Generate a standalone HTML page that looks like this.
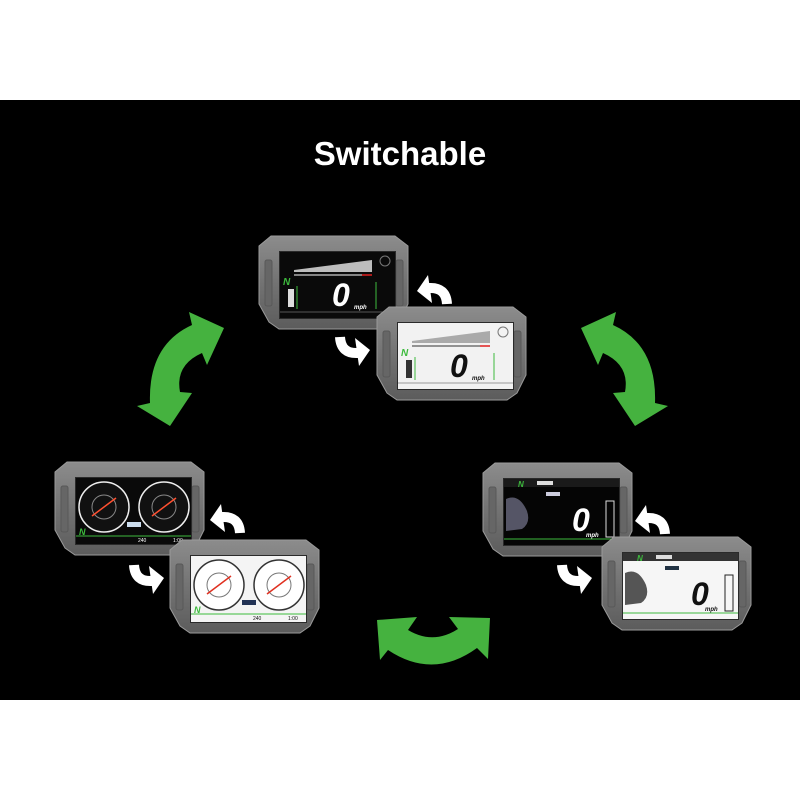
<!DOCTYPE html>
<html><head><meta charset="utf-8"><style>
html,body{margin:0;padding:0;background:#fff;}
svg{display:block}
text{font-family:"Liberation Sans",sans-serif}
</style></head><body>
<svg width="800" height="800" viewBox="0 0 800 800" xmlns="http://www.w3.org/2000/svg">
<defs>
  <linearGradient id="bz" x1="0" y1="0" x2="0" y2="1">
    <stop offset="0" stop-color="#8c8c8c"/><stop offset="0.5" stop-color="#737373"/><stop offset="1" stop-color="#5c5c5c"/>
  </linearGradient>
  <g id="body">
    <polygon points="12,0 136,0 149,10 149,68 140,86 130,93 20,93 10,86 0,68 0,10" fill="url(#bz)" stroke="#9a9a9a" stroke-width="1"/>
    <rect x="6" y="24" width="7" height="46" rx="2" fill="#666" stroke="#585858"/>
    <rect x="137" y="24" width="7" height="46" rx="2" fill="#666" stroke="#585858"/>
    <rect x="20" y="15" width="117" height="68" fill="#2a2a2a"/>
  </g>
  <g id="warr">
    <path d="M12 13 Q29 12 30 29" fill="none" stroke="#fff" stroke-width="10"/>
    <polygon points="0,16 11,0 15,28" fill="#fff"/>
  </g>
  <g id="garr">
    <path d="M150,403 L137,406 L170,426 L192,393 L180,392 Q175,365 202,353 L207,365 L224,328 L189,312 L192,325 Q148,345 150,403 Z" fill="#45b23f"/>
  </g>
</defs>
<rect x="0" y="100" width="800" height="600" fill="#000"/>
<text x="400" y="165" font-size="33" font-weight="bold" fill="#fff" text-anchor="middle">Switchable</text>

<use href="#garr"/>
<use href="#garr" transform="translate(805,0) scale(-1,1)"/>
<path d="M377,620 L417,617 L408,630 Q433,645 458,629 L449,617 L490,618 L488,659 L477,648 Q433,680 388,650 L380,660 Z" fill="#45b23f"/>

<!-- TOP pair -->
<g transform="translate(259,236)">
  <use href="#body"/>
  <g transform="translate(21,16)">
    <rect width="115" height="66" fill="#0a0a0a"/>
    <polygon points="14,18 92,8 92,20 14,20" fill="#bdbdbd"/>
    <line x1="14" y1="23" x2="92" y2="23" stroke="#fff" stroke-width="1"/>
    <line x1="82" y1="23" x2="92" y2="23" stroke="#e02020" stroke-width="1.5"/>
    <text x="3" y="33" font-size="10" font-weight="bold" font-style="italic" fill="#3dbb3d">N</text>
    <rect x="8" y="37" width="6" height="18" fill="#ddd"/>
    <path d="M17 34 V57 M96 30 V57" stroke="#3dbb3d" stroke-width="1" fill="none"/>
    <text x="52" y="54" font-size="32" font-weight="bold" font-style="italic" fill="#fff">0</text>
    <text x="74" y="57" font-size="6" font-weight="bold" font-style="italic" fill="#fff">mph</text>
    <line x1="0" y1="60" x2="115" y2="60" stroke="#555"/>
    <circle cx="105" cy="9" r="5" fill="none" stroke="#777"/>
  </g>
</g>
<g transform="translate(377,307)">
  <use href="#body"/>
  <g transform="translate(21,16)">
    <rect width="115" height="66" fill="#f2f2f2"/>
    <polygon points="14,18 92,8 92,20 14,20" fill="#aaa"/>
    <line x1="14" y1="23" x2="92" y2="23" stroke="#333" stroke-width="1"/>
    <line x1="82" y1="23" x2="92" y2="23" stroke="#e02020" stroke-width="1.5"/>
    <text x="3" y="33" font-size="10" font-weight="bold" font-style="italic" fill="#3dbb3d">N</text>
    <rect x="8" y="37" width="6" height="18" fill="#333"/>
    <path d="M17 34 V57 M96 30 V57" stroke="#3dbb3d" stroke-width="1" fill="none"/>
    <text x="52" y="54" font-size="32" font-weight="bold" font-style="italic" fill="#111">0</text>
    <text x="74" y="57" font-size="6" font-weight="bold" font-style="italic" fill="#111">mph</text>
    <line x1="0" y1="60" x2="115" y2="60" stroke="#999"/>
    <circle cx="105" cy="9" r="5" fill="none" stroke="#777"/>
  </g>
</g>
<use href="#warr" transform="translate(417,275)"/>
<use href="#warr" transform="translate(370,366) rotate(180)"/>

<!-- LEFT pair -->
<g transform="translate(55,462)">
  <use href="#body"/>
  <g transform="translate(21,16)">
    <rect width="115" height="66" fill="#0a0a0a"/>
    <circle cx="28" cy="29" r="25" fill="#111" stroke="#eee" stroke-width="1.5"/>
    <circle cx="28" cy="29" r="12" fill="none" stroke="#888"/>
    <circle cx="88" cy="29" r="25" fill="#111" stroke="#eee" stroke-width="1.5"/>
    <circle cx="88" cy="29" r="12" fill="none" stroke="#888"/>
    <line x1="16" y1="38" x2="40" y2="20" stroke="#ff5030" stroke-width="1.5"/>
    <line x1="76" y1="38" x2="100" y2="20" stroke="#ff5030" stroke-width="1.5"/>
    <rect x="51" y="44" width="14" height="5" fill="#cde"/>
    <text x="3" y="57" font-size="9" font-weight="bold" font-style="italic" fill="#3dbb3d">N</text>
    <line x1="0" y1="58" x2="115" y2="58" stroke="#3dbb3d"/>
    <text x="62" y="64" font-size="5" fill="#fff">240</text>
    <text x="97" y="64" font-size="5" fill="#fff">1:00</text>
  </g>
</g>
<g transform="translate(170,540)">
  <use href="#body"/>
  <g transform="translate(21,16)">
    <rect width="115" height="66" fill="#f4f4f4"/>
    <circle cx="28" cy="29" r="25" fill="#fff" stroke="#333" stroke-width="1.5"/>
    <circle cx="28" cy="29" r="12" fill="none" stroke="#777"/>
    <circle cx="88" cy="29" r="25" fill="#fff" stroke="#333" stroke-width="1.5"/>
    <circle cx="88" cy="29" r="12" fill="none" stroke="#777"/>
    <line x1="16" y1="38" x2="40" y2="20" stroke="#e03020" stroke-width="1.5"/>
    <line x1="76" y1="38" x2="100" y2="20" stroke="#e03020" stroke-width="1.5"/>
    <rect x="51" y="44" width="14" height="5" fill="#235"/>
    <text x="3" y="57" font-size="9" font-weight="bold" font-style="italic" fill="#3dbb3d">N</text>
    <line x1="0" y1="58" x2="115" y2="58" stroke="#3dbb3d"/>
    <text x="62" y="64" font-size="5" fill="#111">240</text>
    <text x="97" y="64" font-size="5" fill="#111">1:00</text>
  </g>
</g>
<use href="#warr" transform="translate(210,504)"/>
<use href="#warr" transform="translate(164,594) rotate(180)"/>

<!-- RIGHT pair -->
<g transform="translate(483,463)">
  <use href="#body"/>
  <g transform="translate(21,16)">
    <rect width="115" height="66" fill="#050505"/>
    <rect x="0" y="0" width="115" height="8" fill="#1a1a1a"/>
    <text x="14" y="8" font-size="8" font-weight="bold" font-style="italic" fill="#3dbb3d">N</text>
    <rect x="33" y="2" width="16" height="4" fill="#ddd"/>
    <path d="M2 20 Q15 14 23 32 Q27 44 18 50 L2 52 Z" fill="#556"/>
    <rect x="42" y="13" width="14" height="4" fill="#ccd"/>
    <text x="68" y="52" font-size="32" font-weight="bold" font-style="italic" fill="#fff">0</text>
    <text x="82" y="58" font-size="6" font-weight="bold" font-style="italic" fill="#fff">mph</text>
    <rect x="102" y="22" width="8" height="36" fill="none" stroke="#ddd"/>
    <line x1="0" y1="60" x2="115" y2="60" stroke="#3dbb3d"/>
  </g>
</g>
<g transform="translate(602,537)">
  <use href="#body"/>
  <g transform="translate(21,16)">
    <rect width="115" height="66" fill="#f6f6f6"/>
    <rect x="0" y="0" width="115" height="8" fill="#333"/>
    <text x="14" y="8" font-size="8" font-weight="bold" font-style="italic" fill="#3dbb3d">N</text>
    <rect x="33" y="2" width="16" height="4" fill="#ddd"/>
    <path d="M2 20 Q15 14 23 32 Q27 44 18 50 L2 52 Z" fill="#555"/>
    <rect x="42" y="13" width="14" height="4" fill="#234"/>
    <text x="68" y="52" font-size="32" font-weight="bold" font-style="italic" fill="#111">0</text>
    <text x="82" y="58" font-size="6" font-weight="bold" font-style="italic" fill="#111">mph</text>
    <rect x="102" y="22" width="8" height="36" fill="none" stroke="#222"/>
    <line x1="0" y1="60" x2="115" y2="60" stroke="#3dbb3d"/>
  </g>
</g>
<use href="#warr" transform="translate(635,505)"/>
<use href="#warr" transform="translate(592,594) rotate(180)"/>
</svg>
</body></html>
